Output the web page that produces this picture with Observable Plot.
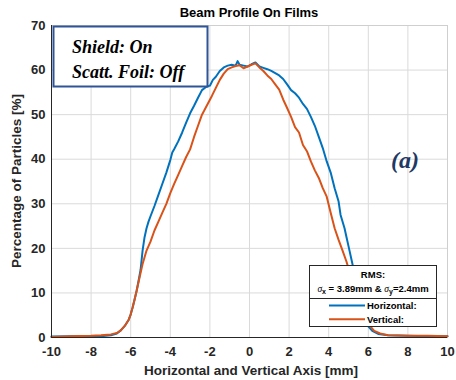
<!DOCTYPE html>
<html>
<head>
<meta charset="utf-8">
<script src="https://cdn.jsdelivr.net/npm/d3@7"></script>
<script src="https://cdn.jsdelivr.net/npm/@observablehq/plot@0.6"></script>
<style>
  html, body { margin: 0; padding: 0; background: #fff; }
  #chart { width: 456px; height: 380px; }
</style>
</head>
<body>
<div id="chart"></div>
<script>
const title = "Beam Profile On Films";
const xLabel = "Horizontal and Vertical Axis [mm]";
const yLabel = "Percentage of Particles [%]";
const xTicks = [-10, -8, -6, -4, -2, 0, 2, 4, 6, 8, 10];
const yTicks = [0, 10, 20, 30, 40, 50, 60, 70];
const seriesNames = ["Horizontal:", "Vertical:"];
const rmsLine1 = "RMS:";
const sigmaX = "3.89mm";
const sigmaY = "2.4mm";
const infoLines = ["Shield: On", "Scatt. Foil: Off"];
const panelTag = "(a)";

// Horizontal profile
const hX = [-10, -9, -8, -7.5, -7, -6.7, -6.5, -6.3, -6.1, -6.0, -5.9, -5.8, -5.7, -5.6, -5.5, -5.4, -5.3, -5.2, -5.1, -5.0,
  -4.8, -4.6, -4.4, -4.2, -4.0, -3.9, -3.8, -3.6, -3.4, -3.2, -3.0, -2.8, -2.6, -2.4, -2.2, -2.0, -1.85, -1.7, -1.5, -1.3,
  -1.1, -0.9, -0.7, -0.6, -0.5, -0.3, -0.1, 0.1, 0.3, 0.5, 0.7, 0.9, 1.1, 1.3, 1.5, 1.7, 1.9, 2.1, 2.3, 2.5,
  2.7, 2.9, 3.1, 3.3, 3.5, 3.7, 3.9, 4.1, 4.3, 4.5, 4.6, 4.8, 4.9, 5.0, 5.2, 5.3, 5.4, 5.5, 5.6, 5.8,
  6.0, 6.2, 6.5, 7.0, 8, 9, 10];
const hY = [0.2, 0.3, 0.3, 0.3, 0.5, 0.9, 1.6, 2.6, 4.0, 5.2, 6.8, 8.6, 10.5, 12.8, 15.2, 19.5, 22.5, 24.5, 26.0, 27.2,
  29.5, 32.0, 34.5, 37.0, 39.8, 41.5, 42.3, 44.0, 46.0, 48.2, 50.3, 52.0, 53.8, 55.5, 56.2, 56.5, 57.8, 58.5, 59.8, 60.6,
  61.0, 61.2, 61.0, 62.0, 61.2, 61.0, 60.8, 61.3, 61.7, 60.8, 60.5, 60.2, 59.8, 59.3, 58.8, 58.0, 56.8, 55.5, 54.8, 53.8,
  52.4, 51.3, 49.5, 47.5, 45.0, 42.5, 39.5, 37.0, 33.5, 30.5, 27.5, 24.5, 22.5, 20.5, 16.5, 13.5, 11.0, 8.5, 6.5, 4.2,
  2.5, 1.5, 0.8, 0.5, 0.4, 0.3, 0.3];

// Vertical profile
const vX = [-10, -9, -8, -7.5, -7, -6.7, -6.5, -6.3, -6.1, -6.0, -5.9, -5.8, -5.7, -5.6, -5.5, -5.4, -5.3, -5.2, -5.1, -5.0,
  -4.8, -4.6, -4.4, -4.2, -4.0, -3.8, -3.6, -3.4, -3.2, -3.0, -2.8, -2.6, -2.4, -2.3, -2.1, -1.9, -1.7, -1.5, -1.3, -1.1,
  -0.9, -0.7, -0.5, -0.3, -0.1, 0.1, 0.3, 0.5, 0.7, 0.9, 1.1, 1.3, 1.5, 1.7, 1.9, 2.1, 2.3, 2.5, 2.7, 2.9,
  3.1, 3.3, 3.5, 3.7, 3.9, 4.1, 4.3, 4.5, 4.7, 4.9, 5.1, 5.3, 5.5, 5.7, 5.9, 6.1, 6.3, 6.6, 7.0, 8, 9, 10];
const vY = [0.1, 0.3, 0.4, 0.5, 0.7, 1.0, 1.6, 2.6, 4.0, 5.2, 6.8, 8.6, 10.5, 12.5, 14.5, 16.5, 18.0, 19.5, 20.5, 21.5,
  24.0, 26.0, 28.0, 30.0, 32.4, 34.5, 36.5, 38.5, 40.5, 42.2, 45.0, 47.5, 50.0, 50.8, 52.5, 54.2, 56.0, 57.8, 59.2, 60.2,
  60.6, 60.9, 61.1, 60.4, 60.8, 61.2, 61.5, 60.6, 59.8, 58.8, 58.0, 56.8, 55.6, 53.4, 51.5, 49.5, 47.2, 46.0, 43.2, 41.8,
  39.5, 37.5, 35.8, 33.5, 31.6, 28.0, 24.5, 21.9, 19.5, 17.0, 14.0, 11.5, 8.8, 6.5, 4.3, 2.5, 1.5, 0.9, 0.5, 0.4, 0.4, 0.3];

const colors = ["#0072BD", "#D95319"];
const hData = hX.map((x, i) => ({x, y: hY[i]}));
const vData = vX.map((x, i) => ({x, y: vY[i]}));

const W = 456, H = 380;
const mL = 51, mR = 9, mT = 25, mB = 43;

const plot = Plot.plot({
  width: W, height: H,
  marginLeft: mL, marginRight: mR, marginTop: mT, marginBottom: mB,
  style: {fontFamily: "'Liberation Sans', Arial, sans-serif", fontSize: "13px", color: "#262626", background: "#fff", overflow: "visible"},
  x: {domain: [-10, 10]},
  y: {domain: [0, 70]},
  marks: [
    Plot.gridX(xTicks, {stroke: "#dadada", strokeOpacity: 1}),
    Plot.gridY(yTicks, {stroke: "#dadada", strokeOpacity: 1}),
    Plot.frame({stroke: "#cfcfcf"}),
    Plot.line(hData, {x: "x", y: "y", stroke: colors[0], strokeWidth: 2}),
    Plot.line(vData, {x: "x", y: "y", stroke: colors[1], strokeWidth: 2}),
    Plot.ruleY([0], {stroke: "#262626", strokeWidth: 1}),
    Plot.ruleX([-10], {stroke: "#262626", strokeWidth: 1}),
    Plot.axisX({ticks: xTicks, tickSize: 0, tickPadding: 9, label: null, fontWeight: "bold", tickFormat: d => String(d).replace("−", "-")}),
    Plot.axisY({ticks: yTicks, tickSize: 0, tickPadding: 6, label: null, fontWeight: "bold"})
  ]
});
document.getElementById("chart").appendChild(plot);

const svg = d3.select(plot);
const sans = "'Liberation Sans', Arial, sans-serif";
const serif = "'Liberation Serif', 'DejaVu Serif', serif";
// title
svg.append("text").attr("x", 249).attr("y", 17).attr("text-anchor", "middle")
  .attr("font-family", sans).attr("font-weight", "bold").attr("font-size", 13).attr("fill", "#000").text(title);
// x label
svg.append("text").attr("x", 251).attr("y", 375).attr("text-anchor", "middle")
  .attr("font-family", sans).attr("font-weight", "bold").attr("font-size", 13.5).attr("fill", "#262626").text(xLabel);
// y label
svg.append("text").attr("transform", "translate(21,181) rotate(-90)").attr("text-anchor", "middle")
  .attr("font-family", sans).attr("font-weight", "bold").attr("font-size", 13.5).attr("fill", "#262626").text(yLabel);

// info box
svg.append("rect").attr("x", 53.5).attr("y", 26.5).attr("width", 154).attr("height", 60)
  .attr("fill", "#fff").attr("stroke", "#2F5597").attr("stroke-width", 2);
const info = svg.append("text").attr("font-family", serif).attr("font-weight", "bold").attr("font-style", "italic")
  .attr("font-size", 18).attr("fill", "#000").attr("text-anchor", "start");
info.append("tspan").attr("x", 72).attr("y", 53).text(infoLines[0]);
info.append("tspan").attr("x", 72).attr("y", 78).text(infoLines[1]);

// panel tag
svg.append("text").attr("x", 391).attr("y", 168).attr("text-anchor", "start").attr("font-family", serif).attr("font-weight", "bold")
  .attr("font-style", "italic").attr("font-size", 24).attr("fill", "#1F3864").text(panelTag);

// legend
const lg = svg.append("g");
lg.append("rect").attr("x", 309.5).attr("y", 265.5).attr("width", 127).attr("height", 61)
  .attr("fill", "#fff").attr("stroke", "#262626").attr("stroke-width", 1);
lg.append("line").attr("x1", 309.5).attr("x2", 436.5).attr("y1", 298.5).attr("y2", 298.5).attr("stroke", "#262626");
lg.append("text").attr("x", 373).attr("y", 278).attr("text-anchor", "middle").attr("font-family", sans)
  .attr("font-weight", "bold").attr("font-size", 9.5).attr("fill", "#000").text(rmsLine1);
const s = lg.append("text").attr("x", 373).attr("y", 292).attr("text-anchor", "middle").attr("font-family", sans)
  .attr("font-weight", "bold").attr("font-size", 9.5).attr("fill", "#000");
s.append("tspan").attr("font-family", serif).attr("font-style", "italic").attr("font-weight", "normal").text("σ");
s.append("tspan").attr("font-size", 7).attr("dy", 2).text("x");
s.append("tspan").attr("dy", -2).text(" = " + sigmaX + " & ");
s.append("tspan").attr("font-family", serif).attr("font-style", "italic").attr("font-weight", "normal").text("σ");
s.append("tspan").attr("font-size", 7).attr("dy", 2).text("y");
s.append("tspan").attr("dy", -2).text("=" + sigmaY);
seriesNames.forEach((name, i) => {
  const yy = 305.5 + i * 13.7;
  lg.append("line").attr("x1", 329).attr("x2", 365).attr("y1", yy).attr("y2", yy)
    .attr("stroke", colors[i]).attr("stroke-width", 2);
  lg.append("text").attr("x", 367).attr("y", yy + 3.5).attr("text-anchor", "start").attr("font-family", sans).attr("font-weight", "bold")
    .attr("font-size", 9.5).attr("fill", "#000").text(name);
});
</script>
</body>
</html>
